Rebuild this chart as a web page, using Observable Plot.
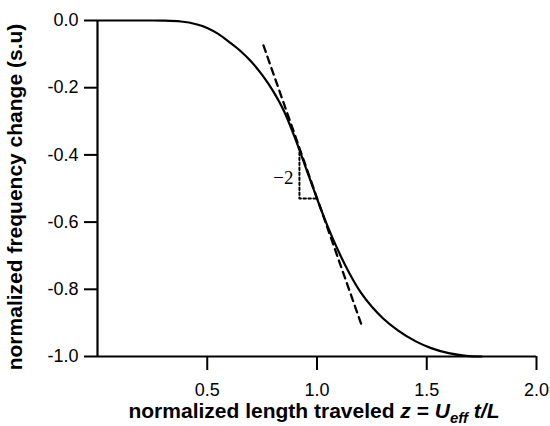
<!DOCTYPE html>
<html>
<head>
<meta charset="utf-8">
<script src="https://cdn.jsdelivr.net/npm/d3@7"></script>
<script src="https://cdn.jsdelivr.net/npm/@observablehq/plot@0.6"></script>
<style>
  html, body { margin: 0; padding: 0; background: #fff; }
  #chart svg { display: block; }
</style>
</head>
<body>
<div id="chart"></div>
<script>
// Normalized length traveled (z) and normalized frequency change (s.u.)
const zValues    = [0, 0.25, 0.30, 0.38, 0.45, 0.50, 0.55, 0.60, 0.65, 0.70, 0.75, 0.80, 0.85, 0.90, 0.95, 1.00, 1.05, 1.10, 1.15, 1.20, 1.25, 1.30, 1.37, 1.45, 1.52, 1.60, 1.68, 1.75];
const freqValues = [0, 0, -0.0005, -0.003, -0.011, -0.022, -0.04, -0.064, -0.09, -0.122, -0.162, -0.21, -0.27, -0.35, -0.44, -0.53, -0.615, -0.69, -0.755, -0.81, -0.852, -0.886, -0.923, -0.955, -0.975, -0.99, -0.998, -1.0];

// Dashed tangent line (slope about -2)
const tangentZ = [0.756, 1.207];
const tangentV = [-0.074, -0.914];

// Dotted slope triangle
const triangleZ = [0.92, 0.92, 1.002];
const triangleV = [-0.393, -0.53, -0.53];

// Slope label
const slopeLabel = [{z: 0.893, v: -0.467, text: "\u22122"}];

const xTicks = [0.5, 1.0, 1.5, 2.0];
const yTicks = [0, -0.2, -0.4, -0.6, -0.8, -1.0];

const curve = zValues.map((z, i) => ({z, v: freqValues[i]}));
const tangent = tangentZ.map((z, i) => ({z, v: tangentV[i]}));
const triangle = triangleZ.map((z, i) => ({z, v: triangleV[i]}));

const sans = "'Liberation Sans', Arial, Helvetica, sans-serif";

const chart = Plot.plot({
  width: 550,
  height: 426,
  marginLeft: 97,
  marginRight: 14,
  marginTop: 20,
  marginBottom: 70,
  style: {fontFamily: sans, color: "#000", background: "#fff"},
  x: {domain: [0, 2]},
  y: {domain: [-1, 0]},
  marks: [
    Plot.axisX({ticks: xTicks, tickFormat: d => d.toFixed(1), tickSize: 14, tickPadding: 13, fontSize: 18, strokeWidth: 2, label: null}),
    Plot.axisY({ticks: yTicks, tickFormat: d => d.toFixed(1), tickSize: 13, tickPadding: 6, fontSize: 18, strokeWidth: 2, label: null}),
    Plot.ruleX([0], {y1: -1, y2: 0, stroke: "#000", strokeWidth: 2.2}),
    Plot.ruleY([-1], {x1: 0, x2: 2, stroke: "#000", strokeWidth: 2.2}),
    Plot.line(tangent, {x: "z", y: "v", stroke: "#000", strokeWidth: 2.3, strokeDasharray: "7,5"}),
    Plot.line(triangle, {x: "z", y: "v", stroke: "#000", strokeWidth: 2, strokeDasharray: "2.5,2.5"}),
    Plot.line(curve, {x: "z", y: "v", stroke: "#000", strokeWidth: 2.2, curve: "monotone-x"}),
    Plot.text(slopeLabel, {x: "z", y: "v", text: "text", textAnchor: "end", fontSize: 19, fontFamily: "'Liberation Serif', 'Times New Roman', serif", fill: "#000"})
  ]
});

document.getElementById("chart").appendChild(chart);

const svg = d3.select(chart);
// y-axis title
svg.append("text")
  .attr("transform", "translate(22,197) rotate(-90)")
  .attr("text-anchor", "middle")
  .attr("font-family", sans)
  .attr("font-weight", "bold")
  .attr("font-size", 21)
  .attr("fill", "#000")
  .text("normalized frequency change (s.u)");

// x-axis title with italic math and subscript
const xt = svg.append("text")
  .attr("x", 314)
  .attr("y", 418)
  .attr("text-anchor", "middle")
  .attr("font-family", sans)
  .attr("font-weight", "bold")
  .attr("font-size", 21)
  .attr("fill", "#000");
xt.append("tspan").text("normalized length traveled ");
xt.append("tspan").attr("font-style", "italic").text("z");
xt.append("tspan").text(" = ");
xt.append("tspan").attr("font-style", "italic").text("U");
xt.append("tspan").attr("font-style", "italic").attr("font-size", 15).attr("dy", 5).text("eff");
xt.append("tspan").attr("font-style", "italic").attr("dy", -5).text(" t/L");
</script>
</body>
</html>
